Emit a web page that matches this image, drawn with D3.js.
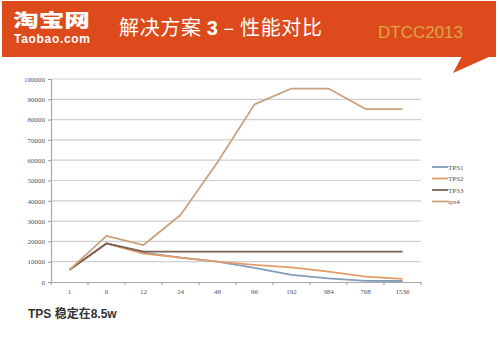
<!DOCTYPE html>
<html>
<head>
<meta charset="utf-8">
<script src="https://cdnjs.cloudflare.com/ajax/libs/d3/7.8.5/d3.min.js"></script>
<style>
  body { margin: 0; background: #fff; }
  svg { display: block; }
</style>
</head>
<body>
<svg width="500" height="354"></svg>
<script>
// threads on the x axis
var categories = ["1", "6", "12", "24", "48", "96", "192", "384", "768", "1536"];
var yTicks = [0, 10000, 20000, 30000, 40000, 50000, 60000, 70000, 80000, 90000, 100000];

var tps1 = [6000, 19000, 14500, 12000, 10000, 7000, 3500, 1800, 600, 500];
var tps2 = [6000, 19000, 14000, 12000, 10000, 8400, 7200, 5100, 2600, 1500];
var tps3 = [6000, 19000, 15000, 15000, 15000, 15000, 15000, 15000, 15000, 15000];
var tps4 = [6000, 22700, 18200, 33000, 59000, 87500, 95300, 95300, 85200, 85200];

var seriesNames = ["TPS1", "TPS2", "TPS3", "tps4"];
var seriesColors = ["#809dbd", "#e49b68", "#7a6157", "#c9a27b"];

var svg = d3.select("svg");

// header band with the little speech-bubble tail
svg.append("rect")
    .attr("x", 2).attr("y", 1)
    .attr("width", 494).attr("height", 56)
    .attr("fill", "#dd4a1b");
svg.append("path")
    .attr("d", "M462,56 L491,56 L453,73 Z")
    .attr("fill", "#dd4a1b");

svg.append("text")
    .attr("x", 13).attr("y", 26.5)
    .attr("font-family", "'Noto Sans CJK SC', sans-serif")
    .attr("font-weight", "900")
    .attr("font-size", 18)
    .attr("fill", "#fff")
    .attr("textLength", 77)
    .attr("lengthAdjust", "spacingAndGlyphs")
    .text("淘宝网");
svg.append("text")
    .attr("x", 14).attr("y", 43)
    .attr("font-family", "Arial, 'Liberation Sans', sans-serif")
    .attr("font-weight", "bold")
    .attr("font-size", 12)
    .attr("fill", "#fff")
    .attr("textLength", 76)
    .text("Taobao.com");

var title = svg.append("text")
    .attr("x", 119).attr("y", 35)
    .attr("font-family", "'Noto Sans CJK SC', sans-serif")
    .attr("font-size", 20)
    .attr("fill", "#fff")
    .attr("textLength", 203);
title.append("tspan").text("解决方案 ");
title.append("tspan").attr("font-family", "Arial, 'Liberation Sans', sans-serif").attr("font-weight", "bold").text("3");
title.append("tspan").text(" – 性能对比");

svg.append("text")
    .attr("x", 378).attr("y", 38)
    .attr("font-family", "Arial, 'Liberation Sans', sans-serif")
    .attr("font-size", 17)
    .attr("fill", "#dba545")
    .attr("textLength", 85)
    .text("DTCC2013");

// chart
var margin = {left: 51, top: 79, right: 421, bottom: 282};

var x = d3.scaleBand()
    .domain(categories)
    .range([margin.left, margin.right]);

var y = d3.scaleLinear()
    .domain([0, 100000])
    .range([margin.bottom, margin.top]);

// gridlines
svg.append("g")
    .selectAll("line")
    .data(yTicks.slice(1))
    .enter().append("line")
      .attr("x1", margin.left)
      .attr("x2", margin.right)
      .attr("y1", function(d) { return y(d); })
      .attr("y2", function(d) { return y(d); })
      .attr("stroke", "#cfcfcf")
      .attr("stroke-width", 1.2);

var yAxis = svg.append("g")
    .attr("transform", "translate(" + margin.left + ",0)")
    .call(d3.axisLeft(y).tickValues(yTicks).tickSize(3).tickPadding(3).tickFormat(d3.format("d")));

var xAxis = svg.append("g")
    .attr("transform", "translate(0," + margin.bottom + ")")
    .call(d3.axisBottom(x).tickSize(0).tickPadding(7));

// tick marks between categories
xAxis.selectAll(".sep")
    .data(categories.concat([""]))
    .enter().append("line")
      .attr("class", "sep")
      .attr("x1", function(d, i) { return margin.left + i * x.step(); })
      .attr("x2", function(d, i) { return margin.left + i * x.step(); })
      .attr("y1", 0).attr("y2", 3)
      .attr("stroke", "#999");

[yAxis, xAxis].forEach(function(a) {
  a.select(".domain").attr("stroke", "#aaa").attr("stroke-width", 1.2);
  a.selectAll(".tick line").attr("stroke", "#999");
  a.selectAll("text")
    .attr("font-family", "'Liberation Serif', 'DejaVu Serif', serif")
    .attr("font-size", 7)
    .attr("fill", "#555");
});

var line = d3.line()
    .x(function(d, i) { return x(categories[i]) + x.bandwidth() / 2; })
    .y(function(d) { return y(d); });

var allSeries = [tps1, tps2, tps3, tps4];

svg.append("g")
    .selectAll("path")
    .data(allSeries)
    .enter().append("path")
      .attr("d", line)
      .attr("fill", "none")
      .attr("stroke", function(d, i) { return seriesColors[i]; })
      .attr("stroke-width", 1.8)
      .attr("stroke-linejoin", "round");

// legend
var legend = svg.append("g")
    .selectAll("g")
    .data(seriesNames)
    .enter().append("g")
      .attr("transform", function(d, i) { return "translate(432," + (167 + i * 11.5) + ")"; });

legend.append("line")
    .attr("x1", 0).attr("x2", 16)
    .attr("stroke", function(d, i) { return seriesColors[i]; })
    .attr("stroke-width", 1.8);

legend.append("text")
    .attr("x", 16).attr("y", 2.5)
    .attr("font-family", "'Liberation Serif', 'DejaVu Serif', serif")
    .attr("font-size", 7)
    .attr("fill", "#555")
    .text(function(d) { return d; });

svg.append("text")
    .attr("x", 28).attr("y", 318)
    .attr("font-family", "Arial, 'Noto Sans CJK SC', sans-serif")
    .attr("font-weight", "bold")
    .attr("font-size", 12)
    .attr("fill", "#333")
    .text("TPS 稳定在8.5w");
</script>
</body>
</html>
